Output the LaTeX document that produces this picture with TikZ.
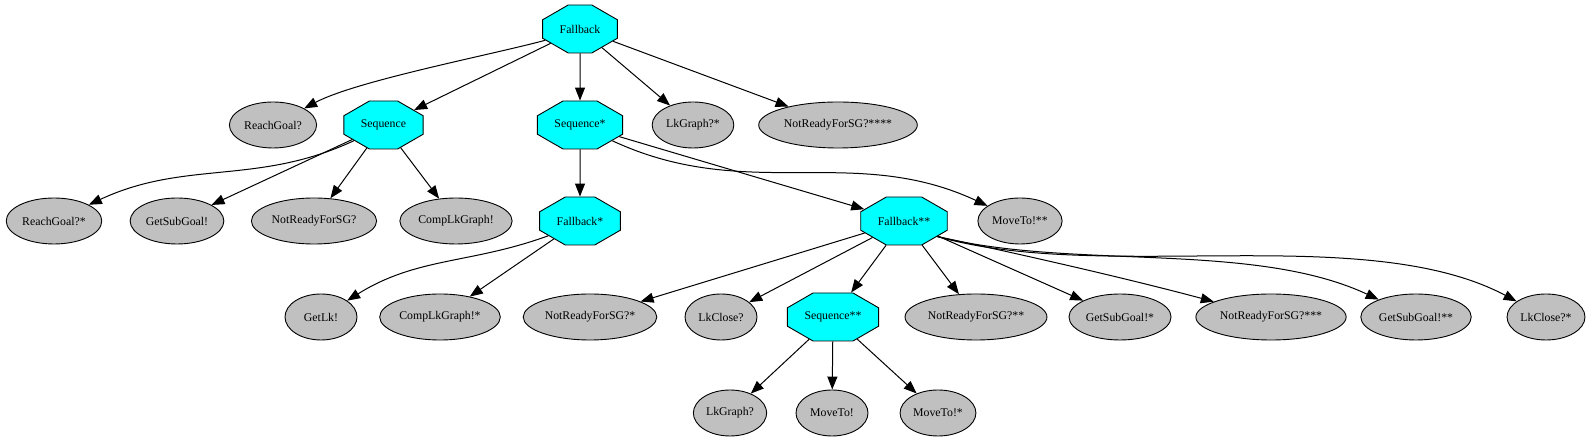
\documentclass[tikz,border=0pt]{standalone}
\usepackage{fontspec}
\setmainfont{Liberation Serif}
\usepackage{xcolor}
\usetikzlibrary{arrows.meta,shapes.misc,shapes.geometric}
\definecolor{leafgray}{RGB}{192,192,192}
\definecolor{ctrlcyan}{RGB}{0,255,255}

\begin{document}
\begin{tikzpicture}[
    x=1pt, y=1pt,
    font=\fontsize{11.8}{13}\selectfont,
    ctrl/.style={chamfered rectangle, chamfered rectangle angle=60, chamfered rectangle ysep=13pt,
        draw, fill=ctrlcyan, line width=0.9pt, minimum height=48pt, inner xsep=14pt, inner ysep=0pt},
    leaf/.style={ellipse, draw, fill=leafgray, line width=0.9pt, minimum width=72pt, minimum height=46pt,
        inner xsep=2pt, inner ysep=0pt},
    tree/.style={-{Triangle[length=13pt,width=10pt]}, line width=1pt}
]
\useasboundingbox (0,0) rectangle (1594,443);

% level 0
\node[ctrl] (root) at (580,414) {Fallback};

% level 1
\node[leaf] (reachgoal) at (273,318) {ReachGoal?};
\node[ctrl] (seq)       at (383.5,318) {Sequence};
\node[ctrl] (seqs)      at (580,318) {Sequence*};
\node[leaf] (lkgraphs)  at (693,318) {LkGraph?*};
\node[leaf] (nrsgD)     at (838,318) {NotReadyForSG?****};

% level 2
\node[leaf] (reachgoals) at (54,222)  {ReachGoal?*};
\node[leaf] (getsub)     at (177,222) {GetSubGoal!};
\node[leaf] (nrsg)       at (314,222) {NotReadyForSG?};
\node[leaf] (complk)     at (456,222) {CompLkGraph!};
\node[ctrl] (fbs)        at (580,222) {Fallback*};
\node[ctrl] (fbss)       at (904,222) {Fallback**};
\node[leaf] (movetoss)   at (1020,222) {MoveTo!**};

% level 3
\node[leaf] (getlk)    at (321,126)  {GetLk!};
\node[leaf] (complks)  at (440,126)  {CompLkGraph!*};
\node[leaf] (nrsgA)    at (590,126)  {NotReadyForSG?*};
\node[leaf] (lkclose)  at (721,126)  {LkClose?};
\node[ctrl] (seqss)    at (833,126)  {Sequence**};
\node[leaf] (nrsgB)    at (976,126)  {NotReadyForSG?**};
\node[leaf] (getsubA)  at (1120,126) {GetSubGoal!*};
\node[leaf] (nrsgC)    at (1271,126) {NotReadyForSG?***};
\node[leaf] (getsubB)  at (1416,126) {GetSubGoal!**};
\node[leaf] (lkcloses) at (1546,126) {LkClose?*};

% level 4
\node[leaf] (lkgraph) at (730,30) {LkGraph?};
\node[leaf] (moveto)  at (832,30) {MoveTo!};
\node[leaf] (movetos) at (938,30) {MoveTo!*};

% edges
\draw[tree] (root.198) to[out=195, in=28, looseness=0.6] (reachgoal);
\foreach \t in {seq,seqs,lkgraphs,nrsgD}
    \draw[tree] (root) -- (\t);

\draw[tree] (seq.208) to[out=205, in=25] (reachgoals);
\foreach \t in {getsub,nrsg,complk}
    \draw[tree] (seq) -- (\t);

\draw[tree] (seqs) -- (fbs);
\draw[tree] (seqs) -- (fbss);
\draw[tree] (seqs.-26) to[out=-25, in=155] (movetoss);

\draw[tree] (fbs.205) to[out=200, in=32] (getlk);
\draw[tree] (fbs) -- (complks);

\foreach \t in {nrsgA,lkclose,seqss,nrsgB,getsubA}
    \draw[tree] (fbss) -- (\t);
\draw[tree] (fbss.-25) to[out=-12, in=165, looseness=0.8] (nrsgC);
\draw[tree] (fbss.-25) to[out=-14, in=155, looseness=0.8] (getsubB);
\draw[tree] (fbss.-25) to[out=-16, in=152, looseness=0.75] (lkcloses);

\foreach \t in {lkgraph,moveto,movetos}
    \draw[tree] (seqss) -- (\t);
\end{tikzpicture}
\end{document}
